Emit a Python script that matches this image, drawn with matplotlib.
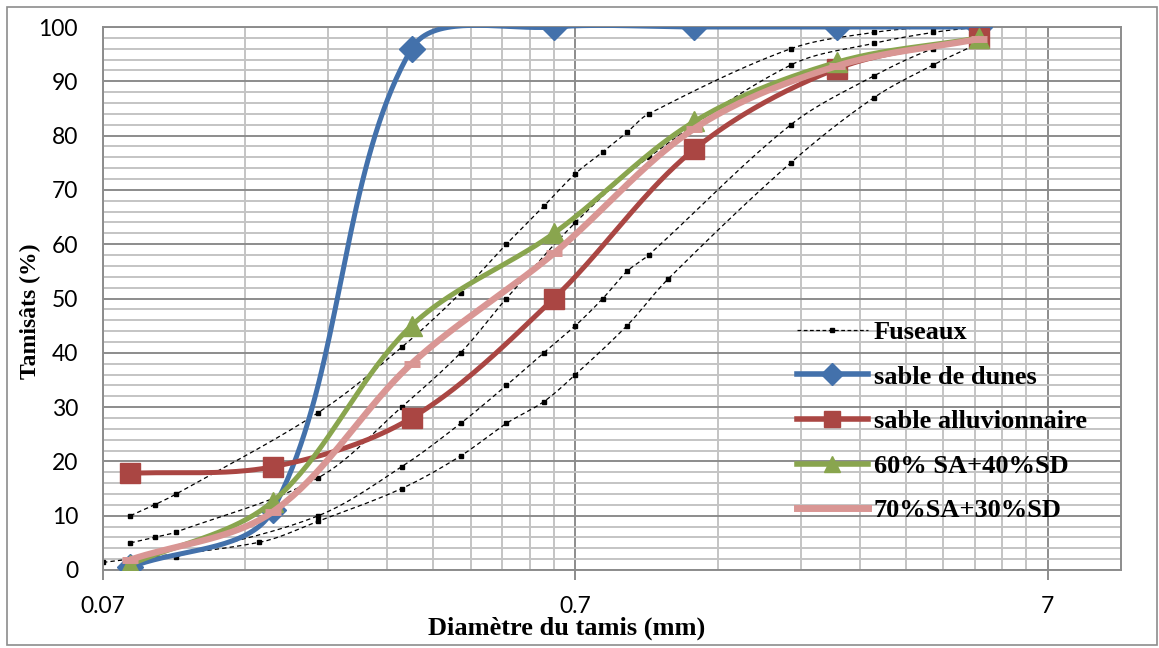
import numpy as np
import matplotlib
matplotlib.use("Agg")
import matplotlib.pyplot as plt
from matplotlib.lines import Line2D
from matplotlib.patches import Rectangle

# ---------------- data ----------------
sieves = [0.08, 0.16, 0.315, 0.63, 1.25, 2.5, 5]
sable_dunes = [0.5, 11, 96, 100, 100, 100, 100]
sable_alluv = [17.8, 19, 28, 50, 77.5, 92.3, 98]
mix_60_40 = [1, 12.6, 45, 62, 82.6, 93.5, 98]
mix_70_30 = [1.9, 10.7, 38, 58.3, 81.3, 92.8, 97.8]

fus_a_x = [0.08, 0.09, 0.1, 0.2, 0.3, 0.4, 0.5, 0.6, 0.7, 0.8, 0.9, 1.0, 2.0, 3.0, 4.0, 5.0]
fus_a_y = [10, 12, 14, 29, 41, 51, 60, 67, 73, 77, 80.6, 84, 96, 99, 100, 100]
fus_b_x = [0.08, 0.09, 0.1, 0.2, 0.3, 0.4, 0.5, 0.7, 1.0, 2.0, 3.0, 4.0, 5.0]
fus_b_y = [5, 6, 7, 17, 30, 40, 50, 64, 76, 93, 97, 99, 100]
fus_c_x = [0.1, 0.2, 0.3, 0.4, 0.5, 0.6, 0.7, 0.8, 0.9, 1.0, 2.0, 3.0, 4.0, 5.0]
fus_c_y = [2.45, 10, 19, 27, 34, 40, 45, 50, 55, 58, 82, 91, 96, 98]
fus_d_x = [0.07, 0.15, 0.2, 0.3, 0.4, 0.5, 0.6, 0.7, 0.9, 1.1, 2.0, 3.0, 4.0, 5.0]
fus_d_y = [1.4, 5.1, 9, 15, 21, 27, 31, 36, 45, 53.6, 75, 87, 93, 97]

x_ticks = [0.07, 0.7, 7]
x_tick_labels = ["0.07", "0.7", "7"]
y_ticks = list(range(0, 101, 10))

labels = ["Fuseaux", "sable de dunes", "sable alluvionnaire",
          "60% SA+40%SD", "70%SA+30%SD"]

# ---------------- helpers ----------------
PX_DEC = 472.0   # pixels per decade on x
PX_UNIT = 5.43   # pixels per % on y


def smooth(xs, ys, n=40):
    """Excel-like smoothed line: Bezier with chord-length weighted tangents
    computed in screen space (log-x)."""
    X = np.log10(np.asarray(xs, float)) * PX_DEC
    Y = np.asarray(ys, float) * PX_UNIT
    P = np.column_stack([X, Y])
    out = []
    t = np.linspace(0, 1, n)[:, None]
    N = len(P)
    d = [np.hypot(*(P[i + 1] - P[i])) for i in range(N - 1)]
    for i in range(N - 1):
        p1, p2 = P[i], P[i + 1]
        if i > 0:
            p0 = P[i - 1]
            c1 = p1 + (p2 - p0) * d[i] / (d[i - 1] + d[i]) / 3.0
        else:
            c1 = p1 + (p2 - p1) / 3.0
        if i + 2 < N:
            p3 = P[i + 2]
            c2 = p2 - (p3 - p1) * d[i] / (d[i] + d[i + 1]) / 3.0
        else:
            c2 = p2 - (p2 - p1) / 3.0
        seg = ((1 - t) ** 3) * p1 + 3 * ((1 - t) ** 2) * t * c1 + 3 * (1 - t) * t ** 2 * c2 + t ** 3 * p2
        out.append(seg if i == 0 else seg[1:])
    S = np.vstack(out)
    return 10 ** (S[:, 0] / PX_DEC), S[:, 1] / PX_UNIT

# ---------------- figure ----------------
W, H = 1159, 648
fig = plt.figure(figsize=(W / 100, H / 100), dpi=100)
fig.patch.set_facecolor("white")

L, R, T, B = 103, 1121, 27, 570
ax = fig.add_axes([L / W, 1 - B / H, (R - L) / W, (B - T) / H])

ax.set_xscale("log")
ax.set_xlim(0.07, 10)
ax.set_ylim(0, 100)

minor = [0.07 * k for k in range(2, 10)] + [0.7 * k for k in range(2, 10)]
ax.set_xticks(x_ticks)
ax.set_xticklabels(x_tick_labels)
ax.set_xticks(minor, minor=True)
ax.xaxis.set_minor_formatter(matplotlib.ticker.NullFormatter())
ax.set_yticks(y_ticks)
ax.set_yticks(list(range(0, 101, 2)), minor=True)

major_c = "#8c8c8c"
minor_c = "#c4c4c4"
ax.grid(True, which="minor", color=minor_c, lw=1.4, zorder=0)
ax.grid(True, which="major", color=major_c, lw=1.4, zorder=0)
ax.set_axisbelow(True)
for s in ax.spines.values():
    s.set_color(major_c)
    s.set_linewidth(1.4)

ax.tick_params(axis="x", which="major", length=7, width=1.4, color=major_c,
               direction="out", pad=12)
ax.tick_params(axis="x", which="minor", length=0)
ax.tick_params(axis="y", which="both", length=0, pad=18)
for lab in ax.get_xticklabels() + ax.get_yticklabels():
    lab.set_fontfamily("Lato")
    lab.set_fontsize(16.5)

# fuseaux
fus_kw = dict(color="black", lw=0.9, ls=(0, (3.5, 2.5)), zorder=2)
for fx, fy in [(fus_a_x, fus_a_y), (fus_b_x, fus_b_y), (fus_c_x, fus_c_y), (fus_d_x, fus_d_y)]:
    sx, sy = smooth(fx, fy)
    ax.plot(sx, sy, **fus_kw)
    ax.plot(fx, fy, ls="none", marker="s", ms=3, color="black", zorder=2)

blue = "#4371ab"
red = "#aa4643"
green = "#89a54e"
pink = "#d99694"

series = [
    (sable_dunes, blue, "D", 13, 3.6),
    (sable_alluv, red, "s", 14, 3.6),
    (mix_60_40, green, "^", 14, 3.6),
    (mix_70_30, pink, "_", 12, 4.6),
]
for i, (ys, c, m, ms, lw) in enumerate(series):
    sx, sy = smooth(sieves, ys)
    ax.plot(sx, sy, color=c, lw=lw, solid_capstyle="round", zorder=3 + i)
    if m == "_":
        ax.plot(sieves, ys, ls="none", marker=m, ms=ms, mew=5, color=c, zorder=3 + i)
    else:
        ax.plot(sieves, ys, ls="none", marker=m, ms=ms, color=c, mec=c, zorder=3 + i)

handles = [
    Line2D([], [], color="black", lw=0.9, ls=(0, (3, 2)), marker="s", ms=3),
    Line2D([], [], color=blue, lw=4, marker="D", ms=11),
    Line2D([], [], color=red, lw=4, marker="s", ms=12),
    Line2D([], [], color=green, lw=4, marker="^", ms=12),
    Line2D([], [], color=pink, lw=5),
]
leg = fig.legend(handles, labels, loc="upper left",
                 bbox_to_anchor=(786 / W, 1 - 310 / H),
                 frameon=False, handlelength=2.7, handletextpad=0.22,
                 labelspacing=0.8, borderaxespad=0,
                 prop=dict(family="Liberation Serif", weight="bold", size=19))

fig.text(567 / W, 1 - 628 / H, "Diamètre du tamis (mm)", ha="center", va="center",
         family="Liberation Serif", weight="bold", size=19)
fig.text(30 / W, 1 - 311 / H, "Tamisâts (%)", ha="center", va="center", rotation=90,
         family="Liberation Serif", weight="bold", size=17)

fig.patches.append(Rectangle((7 / W, 3 / H), (W - 9) / W, (H - 10) / H,
                             transform=fig.transFigure, fill=False,
                             edgecolor="#8c8c8c", lw=1.2))

fig.savefig("out.png", dpi=100, facecolor="white")
